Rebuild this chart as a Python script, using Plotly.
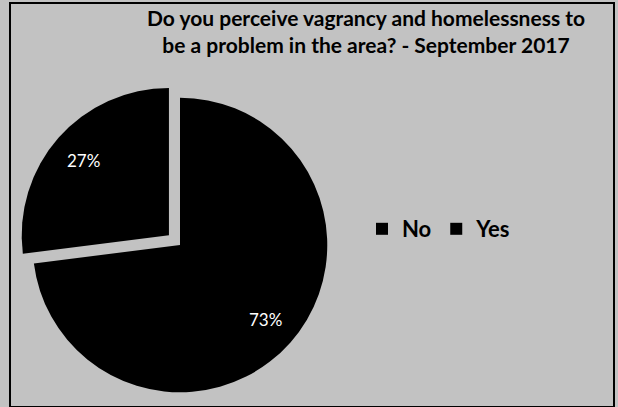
import math
import plotly.graph_objects as go

labels = ["No", "Yes"]
values = [73, 27]
pulls = [0, 0.1]
colors = ["#000000", "#000000"]
title_lines = ["Do you perceive vagrancy and homelessness to",
               "be a problem in the area? - September 2017"]

W, H = 618, 407
BG = "#c2c2c2"

# pie domain in pixels
dx0, dx1, dy0, dy1 = 18, 342, 83, 407  # dy measured from top
cx, cy = (dx0 + dx1) / 2, (dy0 + dy1) / 2
R = (dx1 - dx0) / 2 / (1 + max(pulls))

fig = go.Figure(go.Pie(
    labels=labels,
    values=values,
    pull=pulls,
    sort=False,
    direction="clockwise",
    rotation=0,
    marker=dict(colors=colors, line=dict(width=0)),
    textinfo="none",
    domain=dict(x=[dx0 / W, dx1 / W], y=[1 - dy1 / H, 1 - dy0 / H]),
    hoverinfo="label+percent",
))

# percent labels placed along each slice's bisector
total = sum(values)
annotations = []
start = 0.0
for v, p in zip(values, pulls):
    frac = v / total
    mid = (start + frac / 2) * 2 * math.pi
    start += frac
    rr = R * (0.77 + p)
    px = cx + rr * math.sin(mid)
    py = cy - rr * math.cos(mid)
    annotations.append(dict(
        x=px / W, y=1 - py / H, xref="paper", yref="paper",
        text=f"{round(frac * 100)}%", showarrow=False,
        xanchor="center", yanchor="middle",
        font=dict(family="Lato", size=17, color="white"),
    ))

annotations.append(dict(
    x=366 / W, y=1 - 3 / H, xref="paper", yref="paper",
    text="<br>".join(title_lines), showarrow=False,
    xanchor="center", yanchor="top", align="center",
    font=dict(family="Lato", size=21, color="black", weight="bold"),
))

fig.update_layout(
    width=W, height=H,
    margin=dict(l=0, r=0, t=0, b=0),
    paper_bgcolor=BG,
    plot_bgcolor=BG,
    showlegend=True,
    legend=dict(
        orientation="h",
        x=362 / W, xanchor="left",
        y=(H - 229) / H, yanchor="middle",
        font=dict(family="Lato", size=22, color="black", weight="bold"),
        bgcolor="rgba(0,0,0,0)",
        itemwidth=30,
    ),
    annotations=annotations,
    shapes=[dict(
        type="rect", xref="paper", yref="paper",
        x0=10 / W, x1=614 / W, y0=0, y1=(H - 3) / H,
        line=dict(color="black", width=2),
        fillcolor="rgba(0,0,0,0)",
    )],
)

fig.write_html("out.html")
